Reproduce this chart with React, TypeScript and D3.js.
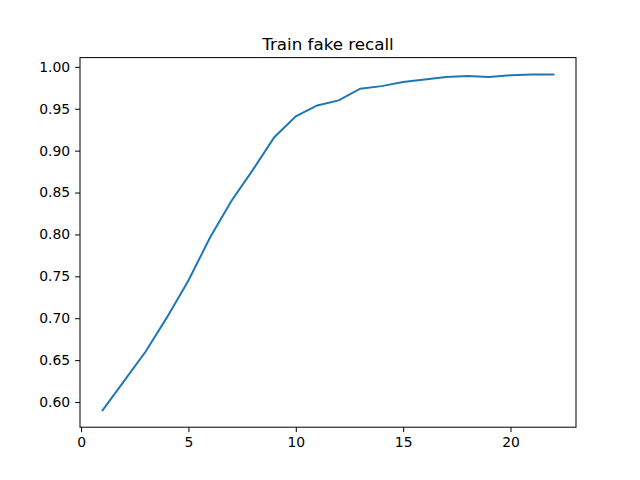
import React, { useRef, useEffect } from 'react';
import * as d3 from 'd3';

const epochs = [1, 2, 3, 4, 5, 6, 7, 8, 9, 10, 11, 12, 13, 14, 15, 16, 17, 18, 19, 20, 21, 22];
const recall = [0.590, 0.625, 0.660, 0.701, 0.745, 0.796, 0.840, 0.877, 0.916, 0.941, 0.954, 0.960,
    0.974, 0.977, 0.982, 0.985, 0.988, 0.989, 0.988, 0.990, 0.991, 0.991];
const xTicks = [0, 5, 10, 15, 20];
const yTicks = [0.60, 0.65, 0.70, 0.75, 0.80, 0.85, 0.90, 0.95, 1.00];

const App: React.FC = () => {
    const svgRef = useRef<SVGSVGElement | null>(null);

    useEffect(() => {
        if (!svgRef.current) return;
        const svg = d3.select(svgRef.current);
        svg.selectAll('*').remove();

        const width = 640;
        const height = 480;
        const margin = { top: 57.6, right: 64, bottom: 52.8, left: 80 };
        const innerWidth = width - margin.left - margin.right;
        const innerHeight = height - margin.top - margin.bottom;

        const xPad = (d3.max(epochs)! - d3.min(epochs)!) * 0.05;
        const yPad = (d3.max(recall)! - d3.min(recall)!) * 0.05;
        const xScale = d3.scaleLinear()
            .domain([d3.min(epochs)! - xPad, d3.max(epochs)! + xPad])
            .range([0, innerWidth]);
        const yScale = d3.scaleLinear()
            .domain([d3.min(recall)! - yPad, d3.max(recall)! + yPad])
            .range([innerHeight, 0]);

        const g = svg.append('g').attr('transform', `translate(${margin.left},${margin.top})`);

        const line = d3.line<number>()
            .x((_, i) => xScale(epochs[i]))
            .y((d) => yScale(d));

        g.append('path')
            .datum(recall)
            .attr('fill', 'none')
            .attr('stroke', '#1f77b4')
            .attr('stroke-width', 2)
            .attr('stroke-linecap', 'square')
            .attr('d', line);

        const xAxis = d3.axisBottom(xScale).tickValues(xTicks).tickSize(4.9).tickPadding(4.9)
            .tickFormat(d3.format('d'));
        const yAxis = d3.axisLeft(yScale).tickValues(yTicks).tickSize(4.9).tickPadding(4.9)
            .tickFormat(d3.format('.2f'));

        const xg = g.append('g').attr('transform', `translate(0,${innerHeight})`).call(xAxis);
        const yg = g.append('g').call(yAxis);
        [xg, yg].forEach((ax) => {
            ax.select('.domain').remove();
            ax.selectAll('line').attr('stroke', '#000').attr('stroke-width', 1);
            ax.selectAll('text').attr('fill', '#000')
                .style('font-family', 'DejaVu Sans').style('font-size', '13.9px');
        });

        g.append('rect')
            .attr('width', innerWidth)
            .attr('height', innerHeight)
            .attr('fill', 'none')
            .attr('stroke', '#000')
            .attr('stroke-width', 1);

        svg.append('text')
            .attr('x', margin.left + innerWidth / 2)
            .attr('y', margin.top - 8)
            .attr('text-anchor', 'middle')
            .style('font-family', 'DejaVu Sans')
            .style('font-size', '16.7px')
            .text('Train fake recall');
    }, []);

    return <svg ref={svgRef} width={640} height={480} style={{ position: 'absolute', left: 0, top: 0, background: '#fff' }} />;
};

export default App;
